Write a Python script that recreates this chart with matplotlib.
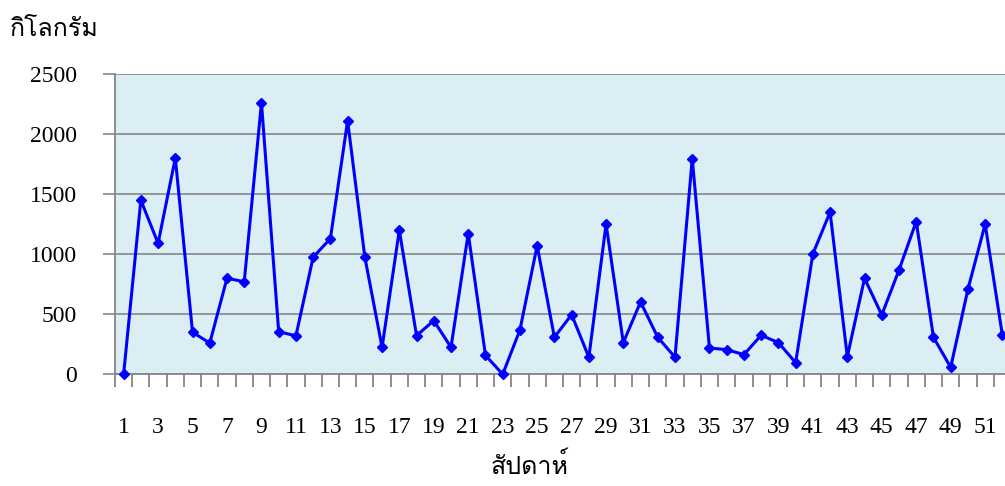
import matplotlib
matplotlib.use("Agg")
import matplotlib.pyplot as plt
from matplotlib import font_manager
from matplotlib.ticker import FixedLocator, FixedFormatter
from fontTools.ttLib import TTFont

# Weekly quantities (kg)
weeks = list(range(1, 53))
kilograms = [
    0, 1450, 1090, 1800, 350, 260, 800, 770, 2260, 355,
    320, 975, 1130, 2110, 975, 225, 1200, 322, 447, 225,
    1172, 158, 0, 369, 1071, 308, 497, 142, 1250, 264,
    602, 308, 142, 1795, 219, 205, 164, 325, 264, 97,
    1002, 1350, 147, 799, 494, 868, 1272, 308, 58, 708,
    1250, 325,
]
y_ticks = [0, 500, 1000, 1500, 2000, 2500]
x_label_weeks = list(range(1, 53, 2))
y_title = "กิโลกรัม"
x_title = "สัปดาห์"


def thai_families():
    """Installed families with Thai glyphs, looped/serif styles first."""
    found = []
    for f in font_manager.fontManager.ttflist:
        try:
            font = TTFont(f.fname, fontNumber=0, lazy=True)
            cmap = font.getBestCmap()
            if cmap and 0x0E01 in cmap and 0x0E31 in cmap and f.name not in found:
                found.append(f.name)
        except Exception:
            continue
    preferred = ("Serif", "Looped", "Norasi", "Kinnari", "Garuda", "Loma", "Tlwg")
    found.sort(key=lambda n: 0 if any(p in n for p in preferred) else 1)
    return found


text_family = ["Liberation Serif"] + thai_families() + ["DejaVu Sans"]

fig = plt.figure(figsize=(10.05, 4.86), dpi=100)
ax = fig.add_axes([115 / 1005, (486 - 374.3) / 486, 896 / 1005, 300.3 / 486])
ax.set_facecolor("#DAEEF3")

grid_color = "#868686"
ax.set_xlim(0.5, 52.5)
ax.set_ylim(0, 2500)
ax.yaxis.set_major_locator(FixedLocator(y_ticks))
ax.grid(axis="y", color=grid_color, linewidth=1.2, zorder=1)
ax.set_axisbelow(True)

for side in ("top", "right"):
    ax.spines[side].set_visible(False)
for side in ("left", "bottom"):
    ax.spines[side].set_color(grid_color)
    ax.spines[side].set_linewidth(1.3)

# Category boundaries carry the tick marks; labels sit on every second week
ax.xaxis.set_minor_locator(FixedLocator([w - 0.5 for w in weeks] + [weeks[-1] + 0.5]))
ax.xaxis.set_major_locator(FixedLocator(x_label_weeks))
ax.xaxis.set_major_formatter(FixedFormatter([str(w) for w in x_label_weeks]))
ax.tick_params(axis="x", which="minor", length=9, width=1.3, color=grid_color, direction="out")
ax.tick_params(axis="x", which="major", length=0, pad=31)
ax.tick_params(axis="y", length=9, width=1.2, color=grid_color, pad=18.5)

for lab in ax.get_xticklabels() + ax.get_yticklabels():
    lab.set_family(["Liberation Serif"])
    lab.set_fontsize(17)
    lab.set_color("black")

ax.plot(weeks, kilograms, color="#0000FF", linewidth=2.2, marker="D",
        markersize=5.5, zorder=3, clip_on=False)

fig.text(10 / 1005, 1 - 30 / 486, y_title, family=text_family, fontsize=18,
         ha="left", va="center")
fig.text(530 / 1005, 1 - 466 / 486, x_title, family=text_family, fontsize=18,
         ha="center", va="center")

fig.savefig("out.png", dpi=100)
